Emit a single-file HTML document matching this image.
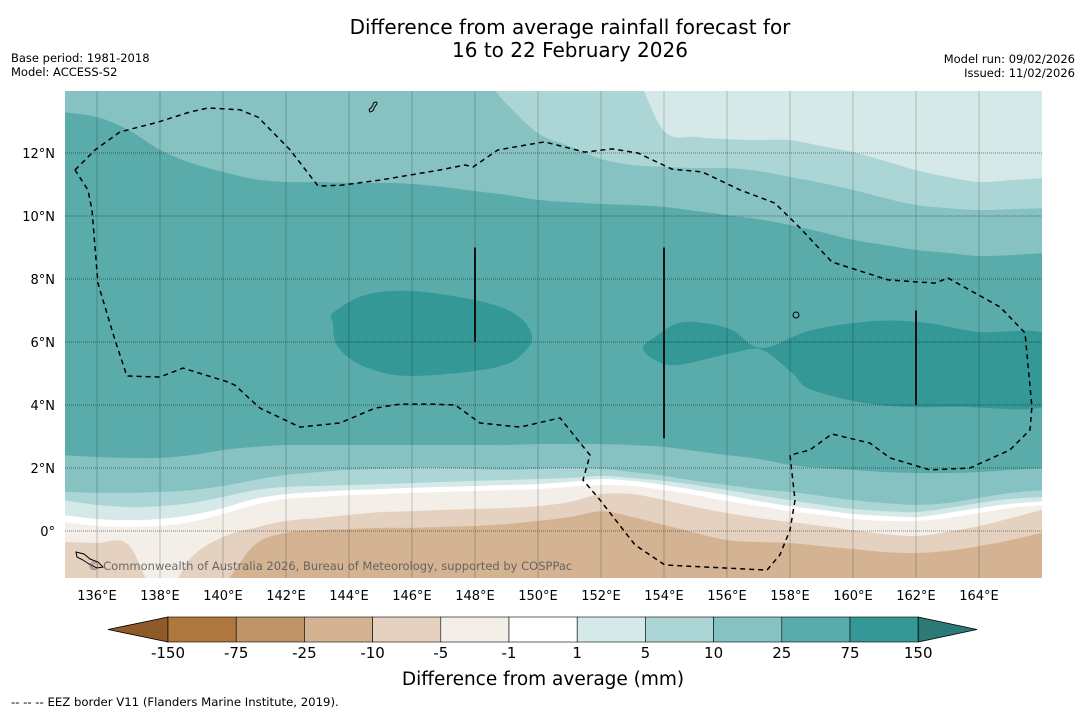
<!DOCTYPE html>
<html><head><meta charset="utf-8"><title>Rainfall difference forecast</title>
<style>
html,body{margin:0;padding:0;background:#fff;}
svg{display:block;font-family:"DejaVu Sans","Liberation Sans",sans-serif;}
</style></head>
<body>
<svg id="chart" width="1085" height="713" viewBox="0 0 1085 713" xmlns="http://www.w3.org/2000/svg">
  <text x="570" y="34" text-anchor="middle" font-size="20" fill="#000">Difference from average rainfall forecast for</text>
  <text x="570" y="57" text-anchor="middle" font-size="20" fill="#000">16 to 22 February 2026</text>
  <text x="11" y="62" font-size="11.5" fill="#000">Base period: 1981-2018</text>
  <text x="11" y="76" font-size="11.5" fill="#000">Model: ACCESS-S2</text>
  <text x="1075" y="63" text-anchor="end" font-size="11.5" fill="#000">Model run: 09/02/2026</text>
  <text x="1075" y="77" text-anchor="end" font-size="11.5" fill="#000">Issued: 11/02/2026</text>
  <defs><clipPath id="mapclip"><rect x="65" y="91" width="977" height="487"/></clipPath></defs>
  <g id="map" clip-path="url(#mapclip)"></g>
  <g id="axes"></g>
  <g id="cbar"></g>
  <text x="543" y="685" text-anchor="middle" font-size="18.5" fill="#000">Difference from average (mm)</text>
  <text x="11" y="706" font-size="11.7" fill="#000">--  --  -- EEZ border V11 (Flanders Marine Institute, 2019).</text>
</svg>
<script>
// ---- data ----
const lons = [135,136,137,138,139,140,141,142,143,144,145,146,147,148,149,150,151,152,153,154,155,156,157,158,159,160,161,162,163,164,165,166];
const bTan = [-2.19,-2.19,-2.19,-2.19,-2.19,-1.71,-0.44,-0.06,0.03,0.06,0.10,0.10,0.13,0.16,0.22,0.32,0.44,0.63,0.44,0.19,-0.06,-0.29,-0.35,-0.38,-0.48,-0.57,-0.67,-0.70,-0.63,-0.48,-0.29,-0.03];
const bBeige = [-0.35,-0.38,-0.44,-2.19,-0.83,-0.19,0.10,0.32,0.41,0.51,0.60,0.63,0.67,0.70,0.73,0.79,0.92,1.17,1.17,0.98,0.76,0.57,0.41,0.29,0.16,0.03,-0.10,-0.16,-0.03,0.16,0.41,0.70];
const bLight = [0.29,0.16,0.13,0.16,0.29,0.54,0.83,1.02,1.08,1.14,1.17,1.21,1.24,1.27,1.30,1.33,1.40,1.46,1.43,1.30,1.14,0.95,0.79,0.63,0.51,0.38,0.32,0.32,0.41,0.57,0.73,0.83];
const bWhite = [0.51,0.38,0.35,0.38,0.51,0.73,1.02,1.17,1.24,1.30,1.33,1.37,1.40,1.43,1.46,1.49,1.56,1.65,1.59,1.46,1.30,1.14,0.95,0.79,0.67,0.54,0.48,0.44,0.57,0.73,0.86,0.95];
const bPale = [0.98,0.83,0.76,0.79,0.89,1.08,1.30,1.40,1.43,1.46,1.49,1.52,1.56,1.59,1.62,1.65,1.68,1.75,1.68,1.59,1.46,1.30,1.14,0.98,0.83,0.70,0.63,0.60,0.73,0.89,1.02,1.08];
const bAqua = [1.24,1.21,1.21,1.24,1.30,1.43,1.62,1.78,1.87,1.94,1.97,2.00,2.00,1.97,1.94,1.97,2.00,1.97,1.87,1.75,1.59,1.46,1.33,1.24,1.11,0.98,0.89,0.83,0.89,1.05,1.21,1.30];
const bTeal = [2.41,2.35,2.32,2.32,2.41,2.57,2.67,2.73,2.73,2.73,2.73,2.73,2.73,2.73,2.73,2.76,2.76,2.76,2.73,2.67,2.54,2.41,2.29,2.10,2.00,1.94,1.87,1.84,1.84,1.87,1.94,2.00];
const bTealTop = [13.30,13.14,12.73,12.10,11.68,11.40,11.17,11.08,11.08,11.05,11.05,11.02,10.92,10.79,10.67,10.51,10.44,10.38,10.35,10.29,10.16,10.03,9.90,9.71,9.49,9.24,9.08,8.92,8.83,8.73,8.76,8.83];
const bAquaTop = [14.6,14.6,14.6,14.6,14.6,14.6,14.6,14.6,14.6,14.6,14.6,14.6,14.6,14.6,13.56,12.63,12.22,11.81,11.62,11.56,11.52,11.52,11.43,11.24,11.05,10.83,10.57,10.35,10.25,10.19,10.22,10.25];
const bPaleTop = [14.6,14.6,14.6,14.6,14.6,14.6,14.6,14.6,14.6,14.6,14.6,14.6,14.6,14.6,14.6,14.6,14.6,14.6,14.6,12.70,12.51,12.44,12.41,12.41,12.22,12.03,11.75,11.46,11.24,11.08,11.14,11.21];
const patch1Lon = [143.49,144.51,146.0,148.0,149.17,149.75,149.68,148.73,146.0,144.51,143.65,143.49];
const patch1Lat = [6.92,7.49,7.62,7.33,6.95,6.38,5.81,5.21,4.92,5.21,5.84,6.60];
const patch2Lon = [153.33,153.71,154.44,155.3,156.16,157.11,158.70,160.79,162.38,163.97,166.3,166.3,163.4,160.79,158.70,158.06,157.11,156.16,154.44,153.71];
const patch2Lat = [5.81,6.16,6.60,6.60,6.38,5.81,6.38,6.67,6.60,6.32,6.16,4.06,3.94,4.00,4.48,5.02,5.75,5.65,5.27,5.43];
const eezLon = [135.30,135.94,136.73,137.94,138.95,139.52,140.54,141.11,142.13,143.02,143.78,144.98,146.89,147.68,147.94,148.73,150.0,150.22,151.49,152.35,153.17,154.25,155.21,156.41,157.52,158.32,159.33,161.11,162.60,163.02,164.67,165.46,165.68,165.62,164.98,163.71,162.44,161.17,160.54,159.33,158.63,158.0,158.16,158.0,157.68,157.27,154.03,153.08,151.97,151.43,151.65,150.70,149.43,148.16,147.37,146.57,145.62,144.83,143.71,142.44,141.17,140.38,140.16,138.73,138.0,136.95,136.57,136.03,135.84,135.71,135.30];
const eezLat = [11.46,12.10,12.67,12.98,13.30,13.43,13.37,13.14,12.10,10.95,10.98,11.14,11.46,11.62,11.56,12.10,12.32,12.35,12.03,12.13,12.0,11.49,11.40,10.83,10.41,9.62,8.54,7.97,7.87,8.03,7.11,6.29,3.94,3.21,2.57,2.0,1.94,2.32,2.79,3.08,2.57,2.41,0.98,0.03,-0.76,-1.24,-1.08,-0.44,0.98,1.62,2.41,3.59,3.30,3.43,4.0,4.03,4.03,3.90,3.43,3.30,3.90,4.63,4.73,5.17,4.89,4.92,6.06,7.87,10.19,10.83,11.46];
const barLon = [148, 154, 162];
const barLatTop = [9.0, 9.0, 7.0];
const barLatBot = [6.0, 2.95, 4.0];
const lonTicks = [136,138,140,142,144,146,148,150,152,154,156,158,160,162,164];
const latTicks = [0,2,4,6,8,10,12];
const cbLabels = ["-150","-75","-25","-10","-5","-1","1","5","10","25","75","150"];
const cbColors = ["#ae773f","#c09369","#d4b393","#e4d1bf","#f3eee8","#ffffff","#d5e9e8","#acd6d5","#86c2c1","#5aacab","#339896"];

// ---- scales ----
const xs = lon => 97 + (lon - 136) * 31.5;
const ys = lat => 531 - lat * 31.5;
const NS = "http://www.w3.org/2000/svg";
const mk = (tag, attrs, parent) => { const e = document.createElementNS(NS, tag); for (const k in attrs) e.setAttribute(k, attrs[k]); parent.appendChild(e); return e; };
const map = document.getElementById('map');
const axes = document.getElementById('axes');
const cbar = document.getElementById('cbar');

function smooth(pts) {
  let d = `M${pts[0][0].toFixed(1)},${pts[0][1].toFixed(1)}`;
  for (let i = 0; i < pts.length - 1; i++) {
    const p0 = pts[Math.max(0, i - 1)], p1 = pts[i], p2 = pts[i + 1], p3 = pts[Math.min(pts.length - 1, i + 2)];
    const c1 = [p1[0] + (p2[0] - p0[0]) / 6, p1[1] + (p2[1] - p0[1]) / 6];
    const c2 = [p2[0] - (p3[0] - p1[0]) / 6, p2[1] - (p3[1] - p1[1]) / 6];
    d += `C${c1[0].toFixed(1)},${c1[1].toFixed(1)} ${c2[0].toFixed(1)},${c2[1].toFixed(1)} ${p2[0].toFixed(1)},${p2[1].toFixed(1)}`;
  }
  return d;
}

const base = mk('rect', {x: 60, y: 85, width: 990, height: 500, fill: '#d4b393'}, map);



const layers = [
  [bTan, '#e4d1bf', 'band-minus10-to-minus5'],
  [bBeige, '#f3eee8', 'band-minus5-to-minus1'],
  [bLight, '#ffffff', 'band-minus1-to-1'],
  [bWhite, '#d5e9e8', 'band-1-to-5'],
  [bPale, '#acd6d5', 'band-5-to-10'],
  [bAqua, '#86c2c1', 'band-10-to-25'],
  [bTeal, '#5aacab', 'band-25-to-75'],
  [bTealTop, '#86c2c1', 'band-10-to-25-north'],
  [bAquaTop, '#acd6d5', 'band-5-to-10-north'],
  [bPaleTop, '#d5e9e8', 'band-1-to-5-north']
];
layers.forEach(([arr, col, name]) => {
  const pts = lons.map((l, i) => [xs(l), ys(arr[i])]);
  pts[0][0] -= 3; pts[pts.length - 1][0] += 3;
  let d = smooth(pts) + `L${pts[pts.length - 1][0]},60L${pts[0][0]},60Z`;
  const p = mk('path', {d: d, fill: col}, map);
  
  
});

function closedSmooth(lo, la) {
  const pts = lo.map((l, i) => [xs(l), ys(la[i])]);
  const n = pts.length;
  let d = `M${pts[0][0].toFixed(1)},${pts[0][1].toFixed(1)}`;
  for (let i = 0; i < n; i++) {
    const p0 = pts[(i - 1 + n) % n], p1 = pts[i], p2 = pts[(i + 1) % n], p3 = pts[(i + 2) % n];
    const c1 = [p1[0] + (p2[0] - p0[0]) / 6, p1[1] + (p2[1] - p0[1]) / 6];
    const c2 = [p2[0] - (p3[0] - p1[0]) / 6, p2[1] - (p3[1] - p1[1]) / 6];
    d += `C${c1[0].toFixed(1)},${c1[1].toFixed(1)} ${c2[0].toFixed(1)},${c2[1].toFixed(1)} ${p2[0].toFixed(1)},${p2[1].toFixed(1)}`;
  }
  return d + 'Z';
}
const pa = mk('path', {d: closedSmooth(patch1Lon, patch1Lat), fill: '#339896'}, map);


const pb = mk('path', {d: closedSmooth(patch2Lon, patch2Lat), fill: '#339896'}, map);



// grid
lonTicks.forEach(l => {
  const g = mk('line', {x1: xs(l), x2: xs(l), y1: 91, y2: 578, stroke: '#000', 'stroke-opacity': 0.2, 'stroke-width': 1}, map);
  
  
});
latTicks.forEach(t => {
  const g = mk('line', {x1: 65, x2: 1042, y1: ys(t), y2: ys(t), stroke: '#000', 'stroke-opacity': 0.45, 'stroke-width': 1, 'stroke-dasharray': '1,1'}, map);
  
  
});

// EEZ
const eezD = eezLon.map((l, i) => (i ? 'L' : 'M') + xs(l).toFixed(1) + ',' + ys(eezLat[i]).toFixed(1)).join('');
const eez = mk('path', {d: eezD, fill: 'none', stroke: '#000', 'stroke-width': 1.5, 'stroke-dasharray': '5,4'}, map);



// vertical bars
barLon.forEach((l, i) => {
  const b = mk('line', {x1: xs(l), x2: xs(l), y1: ys(barLatTop[i]), y2: ys(barLatBot[i]), stroke: '#111', 'stroke-width': 2}, map);
  
  
});

// islands (small)
const guam = mk('path', {d: 'M370,112 q-2,-3 1,-4 l2,-3 q0,-3 3,-3 q2,1 0,3 l-2,3 q0,3 -4,4z', fill: 'none', stroke: '#000', 'stroke-width': 1}, map);


const png = mk('path', {d: 'M76,552 l8,2 l6,5 l8,3 l5,5 l-6,1 l-8,-4 l-6,-4 l-6,-3z', fill: 'none', stroke: '#000', 'stroke-width': 1}, map);


const pohn = mk('circle', {cx: 796, cy: 315, r: 3, fill: 'none', stroke: '#000', 'stroke-width': 1}, map);



const copy = mk('text', {x: 88, y: 570, 'font-size': 11.5, fill: '#555', 'fill-opacity': 0.85}, map);
copy.textContent = '© Commonwealth of Australia 2026, Bureau of Meteorology, supported by COSPPac';



// tick labels
lonTicks.forEach(l => {
  const t = mk('text', {x: xs(l), y: 600, 'text-anchor': 'middle', 'font-size': 13, fill: '#000'}, axes);
  t.textContent = l + '°E';
  
  
});
latTicks.forEach(v => {
  const t = mk('text', {x: 55, y: ys(v) + 5, 'text-anchor': 'end', 'font-size': 13, fill: '#000'}, axes);
  t.textContent = v === 0 ? '0°' : v + '°N';
  
  
});

// colorbar
const cbX0 = 168, cbW = 68.2, cbY = 617, cbH = 25;
const lt = mk('polygon', {points: `108,${cbY + cbH / 2} ${cbX0},${cbY} ${cbX0},${cbY + cbH}`, fill: '#8f5a2a', stroke: '#000', 'stroke-width': 0.8}, cbar);


cbColors.forEach((c, i) => {
  const r = mk('rect', {x: cbX0 + i * cbW, y: cbY, width: cbW, height: cbH, fill: c, stroke: '#000', 'stroke-width': 0.6}, cbar);
  
  
});
const xEnd = cbX0 + cbColors.length * cbW;
const rt = mk('polygon', {points: `${xEnd},${cbY} 977,${cbY + cbH / 2} ${xEnd},${cbY + cbH}`, fill: '#2b7a78', stroke: '#000', 'stroke-width': 0.8}, cbar);


cbLabels.forEach((s, i) => {
  const t = mk('text', {x: cbX0 + i * cbW, y: 658, 'text-anchor': 'middle', 'font-size': 15, fill: '#000'}, cbar);
  t.textContent = s;
  
  
});
</script>
</body></html>
